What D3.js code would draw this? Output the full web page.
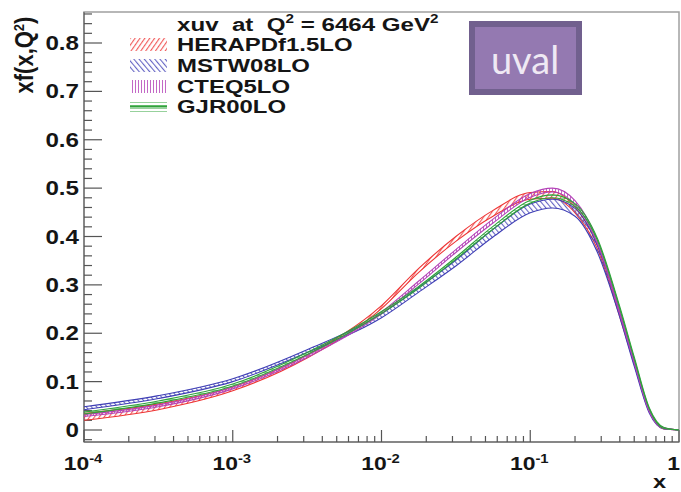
<html>
<head>
<title>xuv at Q2 = 6464 GeV2</title>
<style>
  body { margin: 0; background: #fff; }
  text { font-family: "Liberation Sans", Arial, sans-serif; font-weight: bold; fill: #151515; white-space: pre; }
</style>
</head>
<body>
<div id="chart"></div>
<script src="https://cdn.jsdelivr.net/npm/d3@7/dist/d3.min.js"></script>
<script>
(function(){
  "use strict";

  var xGrid = [1e-4, 3.16e-4, 1e-3, 3.16e-3, 1e-2, 1.78e-2, 3.16e-2, 5.62e-2, 0.1, 0.141, 0.2, 0.282, 0.398, 0.501, 0.631, 0.794, 1];

  // central values, xf(x,Q2)
  var heraVal = [0.027, 0.048, 0.085, 0.152, 0.254, 0.330, 0.395, 0.448, 0.484, 0.486, 0.455, 0.380, 0.240, 0.138, 0.040, 0.003, 0];
  var mstwVal = [0.045, 0.068, 0.103, 0.163, 0.236, 0.290, 0.345, 0.407, 0.458, 0.468, 0.450, 0.375, 0.240, 0.135, 0.038, 0.003, 0];
  var cteqVal = [0.030, 0.050, 0.087, 0.152, 0.242, 0.305, 0.370, 0.432, 0.485, 0.496, 0.470, 0.390, 0.245, 0.140, 0.040, 0.003, 0];
  var gjrVal  = [0.035, 0.058, 0.093, 0.158, 0.243, 0.295, 0.355, 0.418, 0.472, 0.483, 0.465, 0.395, 0.255, 0.148, 0.045, 0.004, 0];

  // half widths of the uncertainty bands
  var heraErr = [0.007, 0.006, 0.004, 0.003, 0.003, 0.004, 0.005, 0.006, 0.007, 0.007, 0.006, 0.005, 0.004, 0.003, 0.002, 0.001, 0];
  var mstwErr = [0.003, 0.003, 0.003, 0.003, 0.004, 0.005, 0.006, 0.008, 0.009, 0.009, 0.008, 0.007, 0.005, 0.004, 0.003, 0.001, 0];
  var cteqErr = [0.002, 0.002, 0.002, 0.002, 0.002, 0.003, 0.003, 0.004, 0.004, 0.004, 0.004, 0.003, 0.003, 0.002, 0.002, 0.001, 0];
  var gjrErr  = [0.002, 0.002, 0.002, 0.002, 0.002, 0.002, 0.002, 0.003, 0.003, 0.003, 0.003, 0.002, 0.002, 0.002, 0.001, 0.001, 0];

  var names  = ["HERAPDf1.5LO", "MSTW08LO", "CTEQ5LO", "GJR00LO"];
  var colors = ["#ee3535", "#3f3fb5", "#b443b8", "#2fa33a"];

  var xTicks = [1e-4, 1e-3, 1e-2, 1e-1, 1];
  var xTickExp = ["-4", "-3", "-2", "-1", ""];
  var yTicks = [0, 0.1, 0.2, 0.3, 0.4, 0.5, 0.6, 0.7, 0.8];

  var width = 681, height = 492;
  var left = 84, right = 679, top = 12, bottom = 442;
  var sx = 1.24; // the picture is stretched sideways

  var svg = d3.select("#chart").append("svg")
    .attr("width", width).attr("height", height);

  var x = d3.scaleLog().domain([1e-4, 1]).range([left, right]);
  var y = d3.scaleLinear().domain([0, 0.8]).range([430, 43]);

  // hatch patterns
  var defs = svg.append("defs");
  function hatch(id, color, angle, gap, w, op) {
    var p = defs.append("pattern").attr("id", id)
      .attr("patternUnits", "userSpaceOnUse")
      .attr("width", gap).attr("height", gap)
      .attr("patternTransform", "rotate(" + angle + ")");
    p.append("line").attr("x1", 0.5).attr("y1", 0).attr("x2", 0.5).attr("y2", gap)
      .attr("stroke", color).attr("stroke-width", w).attr("stroke-opacity", op);
  }
  hatch("h0", colors[0], 35, 4, 1.3, 0.8);
  hatch("h1", colors[1], -40, 4, 1.2, 0.8);
  hatch("h2", colors[2], 0, 3, 1, 0.8);
  hatch("h3", colors[3], 90, 3, 1, 0.5);

  // frame
  svg.append("rect")
    .attr("x", left).attr("y", top)
    .attr("width", right - left).attr("height", bottom - top)
    .attr("fill", "none").attr("stroke", "#a0a0a0").attr("stroke-width", 1.5);
  svg.append("line").attr("x1", left).attr("x2", left).attr("y1", top).attr("y2", bottom)
    .attr("stroke", "#777").attr("stroke-width", 1.5);
  svg.append("line").attr("x1", left).attr("x2", right).attr("y1", bottom).attr("y2", bottom)
    .attr("stroke", "#777").attr("stroke-width", 1.5);

  // y ticks
  var yMinor = d3.range(-1, 44).map(function(i){ return i * 0.02; })
    .filter(function(v){ return y(v) > top && y(v) < bottom; });
  svg.append("g").selectAll("line").data(yMinor).enter().append("line")
    .attr("x1", left).attr("y1", function(d){ return y(d); })
    .attr("x2", function(d){ return Math.abs(d * 10 - Math.round(d * 10)) < 1e-6 ? left + 18 : left + 8; })
    .attr("y2", function(d){ return y(d); })
    .attr("stroke", "#555").attr("stroke-width", 1.2);

  svg.append("g").selectAll("text").data(yTicks).enter().append("text")
    .attr("transform", function(d){ return "translate(" + 79 + "," + (y(d) + 7) + ") scale(" + sx + ",1)"; })
    .attr("text-anchor", "end")
    .style("font-size", "19.5px")
    .text(function(d){ return d === 0 ? "0" : d3.format(".1f")(d); });

  // x ticks
  var xMinor = [];
  [-4, -3, -2, -1].forEach(function(e){
    for (var k = 2; k <= 9; k++) xMinor.push(k * Math.pow(10, e));
  });
  svg.append("g").selectAll("line").data(xMinor).enter().append("line")
    .attr("x1", function(d){ return x(d); }).attr("x2", function(d){ return x(d); })
    .attr("y1", bottom).attr("y2", bottom - 6)
    .attr("stroke", "#555").attr("stroke-width", 1.2);
  svg.append("g").selectAll("line").data(xTicks).enter().append("line")
    .attr("x1", function(d){ return x(d); }).attr("x2", function(d){ return x(d); })
    .attr("y1", bottom).attr("y2", bottom - 12)
    .attr("stroke", "#555").attr("stroke-width", 1.2);

  // the last label ("1") sits against the right edge
  var xl = svg.append("g").selectAll("text").data(xTicks).enter().append("text")
    .attr("transform", function(d, i){
      var px = xTickExp[i] ? x(d) - 1 : width - 1;
      return "translate(" + px + ",470) scale(" + sx + ",1)";
    })
    .attr("text-anchor", function(d, i){ return xTickExp[i] ? "middle" : "end"; })
    .style("font-size", "18.5px");
  xl.append("tspan").text(function(d, i){ return xTickExp[i] ? "10" : "1"; });
  xl.append("tspan").attr("dy", -7).style("font-size", "12px")
    .text(function(d, i){ return xTickExp[i]; });

  svg.append("text")
    .attr("transform", "translate(666,488) scale(" + sx + ",1)")
    .attr("text-anchor", "end").style("font-size", "19px").text("x");

  var yt = svg.append("text")
    .attr("transform", "translate(33,55) rotate(-90) scale(1,1.15)")
    .attr("text-anchor", "middle").style("font-size", "22px");
  yt.append("tspan").text("xf(x,Q");
  yt.append("tspan").attr("dy", -8).style("font-size", "13px").text("2");
  yt.append("tspan").attr("dy", 8).text(")");

  // bands and curves
  var series = [heraVal, mstwVal, cteqVal, gjrVal].map(function(vals, s){
    var errs = [heraErr, mstwErr, cteqErr, gjrErr][s];
    return xGrid.map(function(xv, i){ return { x: xv, v: vals[i], e: errs[i] }; });
  });

  var area = d3.area()
    .x(function(d){ return x(d.x); })
    .y0(function(d){ return y(d.v - d.e); })
    .y1(function(d){ return y(d.v + d.e); })
    .curve(d3.curveMonotoneX);
  var upper = d3.line().x(function(d){ return x(d.x); })
    .y(function(d){ return y(d.v + d.e); }).curve(d3.curveMonotoneX);
  var lower = d3.line().x(function(d){ return x(d.x); })
    .y(function(d){ return y(d.v - d.e); }).curve(d3.curveMonotoneX);

  var curves = svg.append("g");
  series.forEach(function(data, s){
    curves.append("path").attr("d", area(data)).attr("fill", "url(#h" + s + ")");
    curves.append("path").attr("d", upper(data)).attr("fill", "none")
      .attr("stroke", colors[s]).attr("stroke-width", 1.1);
    curves.append("path").attr("d", lower(data)).attr("fill", "none")
      .attr("stroke", colors[s]).attr("stroke-width", 1.1);
  });

  // legend
  var title = svg.append("text")
    .attr("transform", "translate(177,31) scale(1.27,1)")
    .style("font-size", "19px");
  title.append("tspan").text("xuv  at  Q");
  title.append("tspan").attr("dy", -8).style("font-size", "12px").text("2");
  title.append("tspan").attr("dy", 8).text(" = 6464 GeV");
  title.append("tspan").attr("dy", -8).style("font-size", "12px").text("2");

  var baselines = [51, 72, 93, 113];
  var leg = svg.append("g").selectAll("g").data(names).enter().append("g");
  leg.append("rect")
    .attr("x", 130).attr("y", function(d, i){ return baselines[i] - 13; })
    .attr("width", 37).attr("height", 13)
    .attr("fill", function(d, i){ return "url(#h" + i + ")"; });
  leg.filter(function(d, i){ return i === 3; }).append("line")
    .attr("x1", 130).attr("x2", 167)
    .attr("y1", baselines[3] - 6.5)
    .attr("y2", baselines[3] - 6.5)
    .attr("stroke", colors[3]).attr("stroke-width", 2);
  leg.append("text")
    .attr("transform", function(d, i){ return "translate(177," + baselines[i] + ") scale(1.26,1)"; })
    .style("font-size", "19px")
    .text(function(d){ return d; });

  // uval box
  svg.append("rect").attr("x", 469).attr("y", 21).attr("width", 113).attr("height", 74)
    .attr("fill", "#71608e");
  svg.append("rect").attr("x", 475).attr("y", 27).attr("width", 101).attr("height", 62)
    .attr("fill", "#9479b1");
  svg.append("text").attr("x", 525).attr("y", 74)
    .attr("text-anchor", "middle")
    .style("font-family", "Lato, 'Open Sans', sans-serif").style("font-weight", "normal")
    .style("font-size", "38px").style("fill", "#efe9f4")
    .text("uval");
})();
</script>
</body>
</html>
